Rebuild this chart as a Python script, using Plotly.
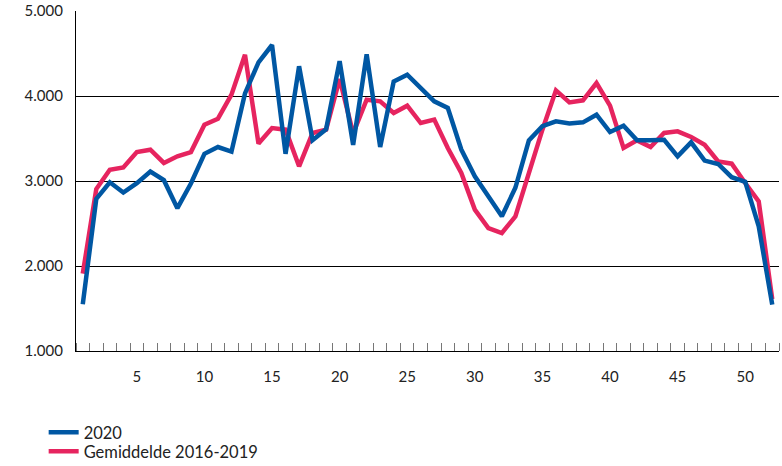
import plotly.graph_objects as go

# Weekly values (weeks 1-52)
weeks = list(range(1, 53))
values_2020 = [
    1550, 2790, 2985, 2865, 2975, 3110, 3010, 2680, 2970, 3320,
    3400, 3345, 4030, 4395, 4600, 3320, 4350, 3480, 3610, 4410,
    3425, 4490, 3400, 4170, 4250, 4085, 3937, 3860, 3370, 3055,
    2820, 2585, 2920, 3478, 3645, 3702, 3678, 3690, 3780, 3576,
    3650, 3478, 3478, 3485, 3290, 3455, 3240, 3200, 3045, 2990,
    2467, 1545,
]
values_avg = [
    1910, 2905, 3133, 3160, 3340, 3368, 3212, 3290, 3340, 3662,
    3733, 4016, 4485, 3440, 3622, 3604, 3173, 3565, 3604, 4200,
    3560, 3957, 3937, 3800, 3886, 3682, 3722, 3388, 3094, 2663,
    2447, 2388, 2584, 3094, 3604, 4067, 3925, 3949, 4153, 3886,
    3388, 3478, 3400, 3565, 3584, 3518, 3427, 3231, 3204, 2976,
    2761, 1610,
]
series_names = ["2020", "Gemiddelde 2016-2019"]
series_colors = ["#0057a3", "#e6245f"]
x_tick_vals = [5, 10, 15, 20, 25, 30, 35, 40, 45, 50]
y_tick_vals = [1000, 2000, 3000, 4000, 5000]
y_tick_text = ["1.000", "2.000", "3.000", "4.000", "5.000"]

font_family = "Lato, 'Open Sans', sans-serif"
legend_font = dict(family=font_family, size=16.5, color="#222222")

fig = go.Figure()
# average first so the 2020 line is drawn on top; each series gets its own legend row
fig.add_trace(go.Scatter(
    x=weeks, y=values_avg, name=series_names[1], mode="lines",
    line=dict(color=series_colors[1], width=4.5), legend="legend2",
))
fig.add_trace(go.Scatter(
    x=weeks, y=values_2020, name=series_names[0], mode="lines",
    line=dict(color=series_colors[0], width=4.5), legend="legend",
))

fig.update_layout(
    width=782, height=466,
    margin=dict(l=76, r=3, t=11, b=115, autoexpand=False),
    paper_bgcolor="white", plot_bgcolor="white",
    font=dict(family=font_family, size=15, color="#222222"),
    showlegend=True,
    legend=dict(
        x=-0.046, y=-0.188, xanchor="left", yanchor="top",
        font=legend_font, itemwidth=30, bgcolor="rgba(0,0,0,0)",
    ),
    legend2=dict(
        x=-0.046, y=-0.244, xanchor="left", yanchor="top",
        font=legend_font, itemwidth=30, bgcolor="rgba(0,0,0,0)",
    ),
)

fig.update_xaxes(
    range=[0.5, 52.5],
    tickmode="array", tickvals=x_tick_vals,
    ticks="", showgrid=False, zeroline=False, automargin=False,
    showline=True, linecolor="#000000", linewidth=1.2,
    ticklabelstandoff=12,
    tickfont=dict(size=15, color="#222222"),
    minor=dict(ticks="inside", tick0=0.5, dtick=1, ticklen=8,
               tickcolor="#777777", tickwidth=1, showgrid=False),
)

fig.update_yaxes(
    range=[1000, 5000],
    tickmode="array", tickvals=y_tick_vals, ticktext=y_tick_text,
    ticks="", showgrid=True, gridcolor="#000000", gridwidth=1.2,
    zeroline=False, automargin=False,
    showline=True, linecolor="#000000", linewidth=1.2,
    ticklabelstandoff=9,
    tickfont=dict(size=15, color="#222222"),
)

fig.write_html("out.html")
